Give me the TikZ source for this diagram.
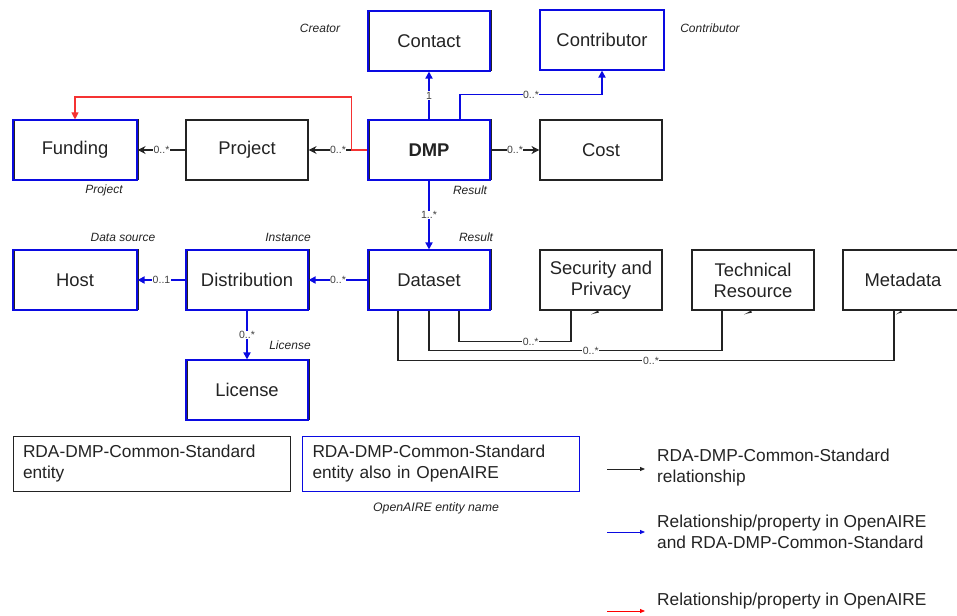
\documentclass[tikz,border=0pt]{standalone}
\usepackage{fontspec}
\setmainfont{Liberation Sans}
\usetikzlibrary{arrows.meta}
\definecolor{oablue}{RGB}{10,10,225}
\definecolor{oared}{RGB}{245,50,50}
\definecolor{ink}{RGB}{35,35,35}
\begin{document}
\begin{tikzpicture}[x=1pt,y=-1pt,
  box/.style={draw=ink, line width=1.1pt, minimum width=122pt, minimum height=60pt,
    inner sep=2pt, align=center, font=\fontsize{18.4}{21}\selectfont, text=ink},
  oabox/.style={box, draw=oablue,
    preaction={draw=ink, line width=1pt, transform canvas={shift={(1pt,0.8pt)}}}},
  oaplain/.style={box, draw=oablue},
  rel/.style={draw=ink, line width=1.1pt, -{Stealth[length=8pt,width=8pt]}},
  plainrel/.style={draw=ink, line width=1.1pt},
  oarel/.style={draw=oablue, line width=1.7pt, -{Triangle[length=7pt,width=7pt]}},
  redrel/.style={draw=oared, line width=1.1pt, -{Triangle[length=7pt,width=7pt]}},
  mult/.style={font=\fontsize{10.5}{11}\selectfont, text=black!75, fill=white, inner sep=0.6pt},
  role/.style={font=\fontsize{12}{14}\selectfont\itshape, text=ink, inner sep=0pt},
  legbox/.style={draw=ink, line width=0.9pt, minimum width=277pt, minimum height=55pt,
    text width=257pt, inner xsep=10pt, align=left, font=\fontsize{17.3}{21}\selectfont, text=ink},
  legtext/.style={anchor=west, align=left, font=\fontsize{17.3}{21}\selectfont, text=ink, inner sep=0pt},
  legarrow/.style={line width=0.8pt, -{Triangle[length=5pt,width=4pt]}}
]
\useasboundingbox (0,0) rectangle (957,615);

% entities
\node[oabox]   (contact)      at (429,41)  {Contact};
\node[oaplain, minimum width=124pt] (contributor) at (602,40) {Contributor};
\node[oabox, minimum width=124pt] (funding) at (75,150) {Funding};
\node[box]     (project)      at (247,150) {Project};
\node[oabox, font=\fontsize{18.4}{21}\selectfont\bfseries] (dmp) at (429,150) {DMP};
\node[box]     (cost)         at (601,150) {Cost};
\node[oabox, minimum width=124pt] (host) at (75,280) {Host};
\node[oabox]   (distribution) at (247,280) {Distribution};
\node[oabox]   (dataset)      at (429,280) {Dataset};
\node[box]     (security)     at (601,280) {Security and\\Privacy};
\node[box]     (technical)    at (753,280) {Technical\\Resource};
\node[box, minimum width=120pt] (metadata) at (903,280) {Metadata};
\node[oabox]   (license)      at (247,390) {License};

% role labels
\node[role] (rcreator) at (320,28)  {Creator};
\node[role] (rcontrib) at (710,28)  {Contributor};
\node[role] (rproject) at (104,190) {Project};
\node[role] (rresult1) at (470,190) {Result};
\node[role] (rdatasrc) at (123,237) {Data source};
\node[role] (rinst)    at (288,237) {Instance};
\node[role] (rresult2) at (476,237) {Result};
\node[role] (rlicense) at (290,345) {License};

% connectors
\draw[rel] (dmp.west) -- (project.east) node[mult, pos=0.5] {0..*};
\draw[redrel] (dmp.west) -- ++(-16,0) -- ++(0,-53) -| (funding.north);
\draw[rel] (project.west) -- (funding.east) node[mult, pos=0.5] {0..*};
\draw[rel] (dmp.east) -- (cost.west) node[mult, pos=0.5] {0..*};
\draw[oarel] (dmp.north) -- (contact.south) node[mult, pos=0.5] {1};
\draw[oarel] ([xshift=31pt]dmp.north) -- ++(0,-25) -| (contributor.south)
  node[mult, pos=0.25] {0..*};
\draw[oarel] (dmp.south) -- (dataset.north) node[mult, pos=0.5] {1..*};
\draw[oarel] (dataset.west) -- (distribution.east) node[mult, pos=0.5] {0..*};
\draw[oarel] (distribution.west) -- (host.east) node[mult, pos=0.5] {0..1};
\draw[oarel] (distribution.south) -- (license.north) node[mult, pos=0.5] {0..*};

\draw[plainrel] ([xshift=30pt]dataset.south) -- ++(0,31) -| ([xshift=-30pt]security.south)
  node[mult, pos=0.32] {0..*};
\draw[plainrel] (dataset.south) -- ++(0,40) -| ([xshift=-31pt]technical.south)
  node[mult, pos=0.276] {0..*};
\draw[plainrel] ([xshift=-31pt]dataset.south) -- ++(0,50) -| ([xshift=-9pt]metadata.south)
  node[mult, pos=0.255] {0..*};

% small arrow marks under the targets
\fill[ink] ([xshift=-10pt,yshift=-4pt]security.south) -- ++(7,-4) -- ++(1,2) -- ++(-5,1) -- cycle;
\fill[ink] ([xshift=-9pt,yshift=-4pt]technical.south) -- ++(7,-4) -- ++(1,2) -- ++(-5,1) -- cycle;
\fill[ink] ([xshift=-7pt,yshift=-4pt]metadata.south) -- ++(5,-4) -- ++(1,2) -- ++(-4,1) -- cycle;

% legend
\node[legbox] (leg1) at (151.5,463.5) {RDA-DMP-Common-Standard\\entity};
\node[legbox, draw=oablue] (leg2) at (441,463.5) {RDA-DMP-Common-Standard\\entity also in OpenAIRE};
\node[role, font=\fontsize{12.3}{14}\selectfont\itshape] (legname) at (436,508) {OpenAIRE entity name};

\coordinate (la1) at (607,469); \coordinate (lb1) at (645,469);
\coordinate (la2) at (607,532); \coordinate (lb2) at (645,532);
\coordinate (la3) at (607,611); \coordinate (lb3) at (645,611);
\draw[legarrow, draw=ink] (la1) -- (lb1);
\draw[legarrow, draw=oablue] (la2) -- (lb2);
\draw[legarrow, draw=red] (la3) -- (lb3);
\node[legtext] (lt1) at (657,468) {RDA-DMP-Common-Standard\\relationship};
\node[legtext] (lt2) at (657,532) {Relationship/property in OpenAIRE\\and RDA-DMP-Common-Standard};
\node[legtext] (lt3) at (657,601) {Relationship/property in OpenAIRE};
\end{tikzpicture}
\end{document}
